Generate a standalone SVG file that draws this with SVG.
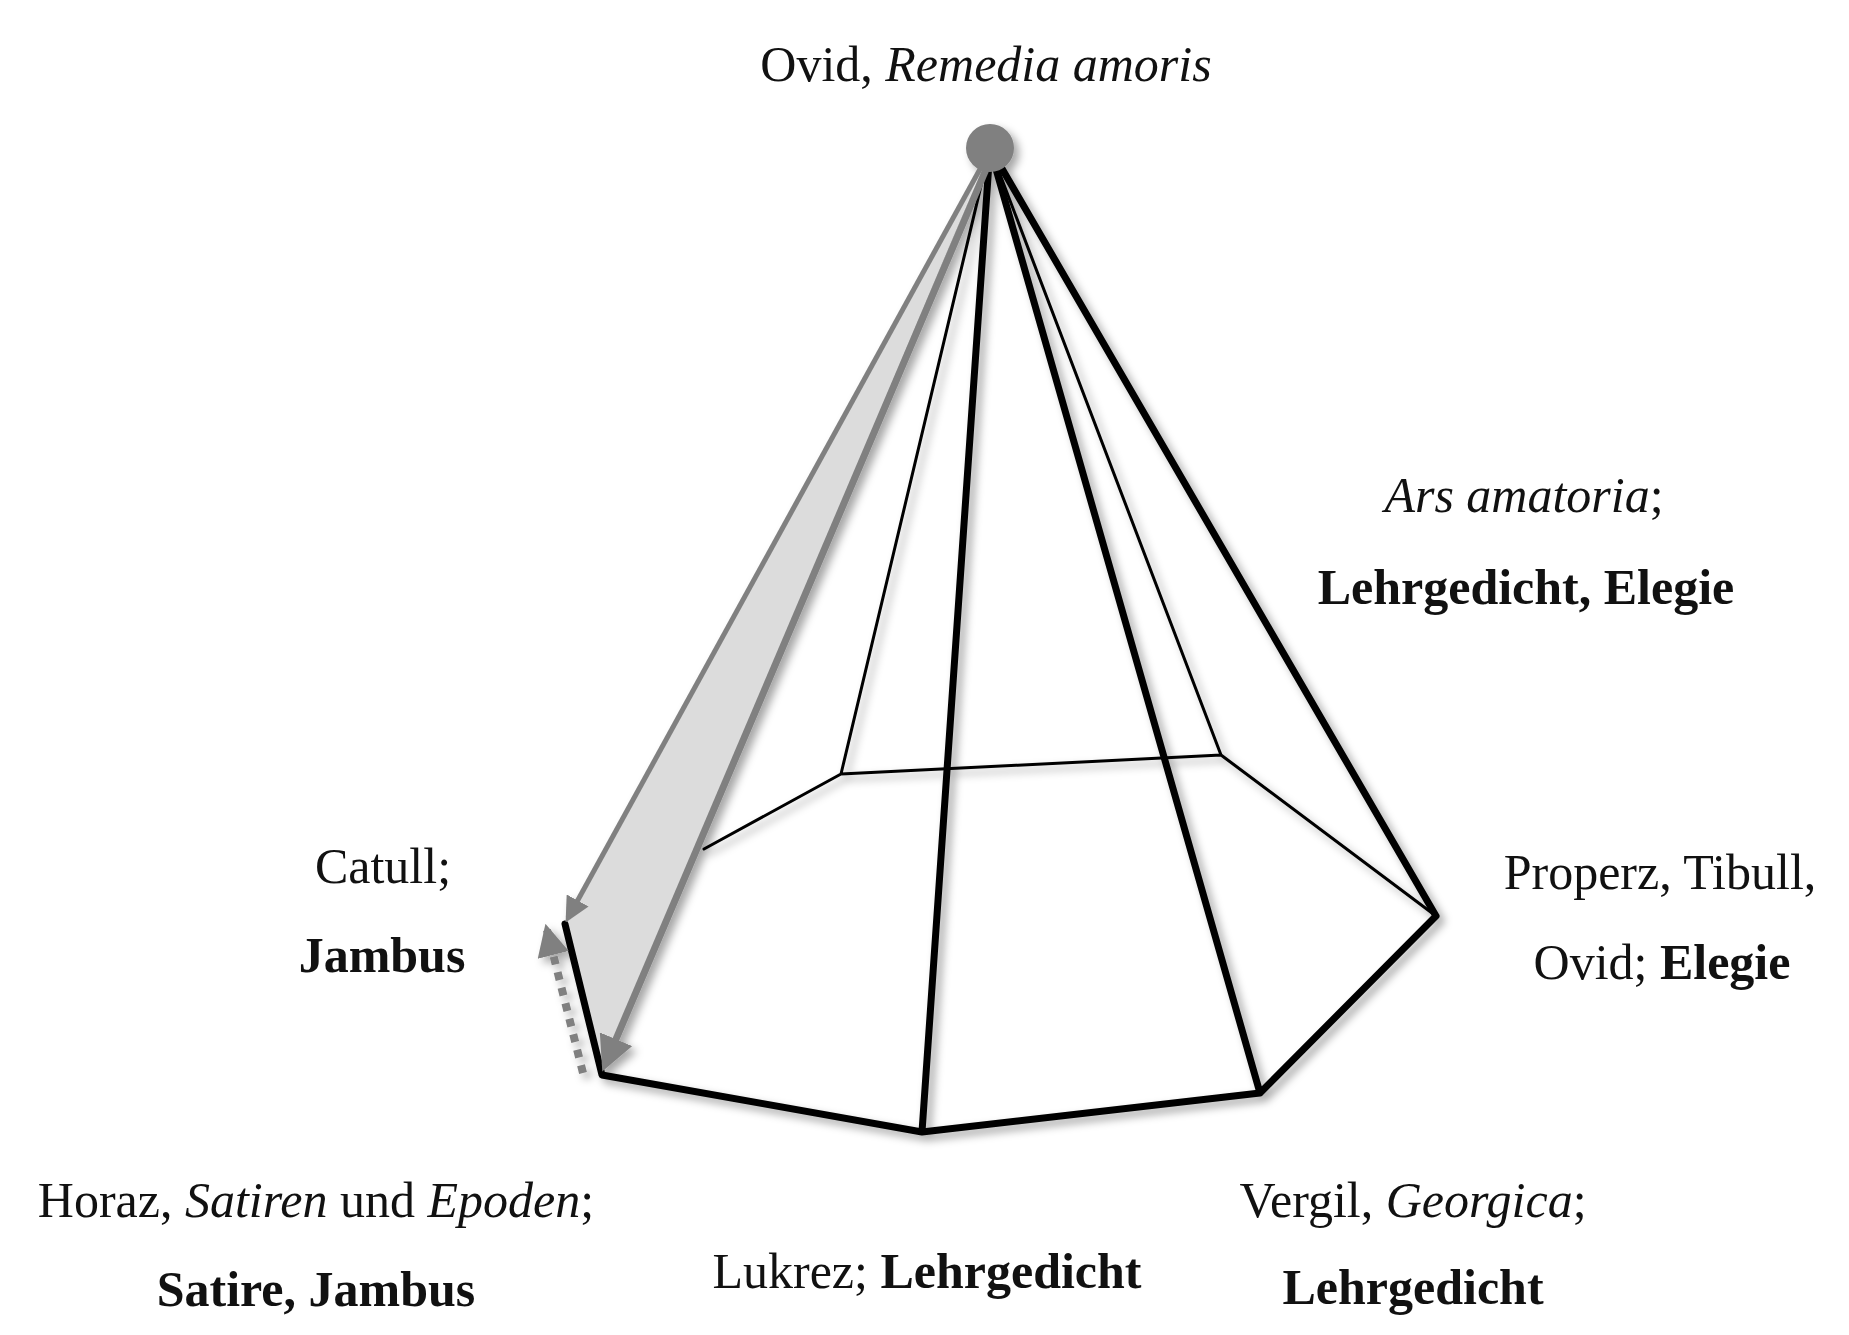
<svg xmlns="http://www.w3.org/2000/svg" width="1849" height="1335" viewBox="0 0 1849 1335">
<style>
text{font-family:"Liberation Serif","Times New Roman",serif;font-size:50px;fill:#111;text-anchor:middle}
.b{font-weight:bold}.i{font-style:italic}
.k{stroke:#000;fill:none;stroke-linecap:round;stroke-linejoin:round}
.t{stroke-width:3}.T{stroke-width:7}
</style>
<defs>
<filter id="sh" x="-20%" y="-20%" width="140%" height="140%"><feDropShadow dx="5" dy="5" stdDeviation="4" flood-color="#000" flood-opacity="0.35"/></filter>
<marker id="ag" viewBox="0 0 10 10" refX="8" refY="5" markerWidth="5" markerHeight="5" orient="auto" markerUnits="strokeWidth"><path d="M0,0L10,5L0,10z" fill="#808080"/></marker>
<marker id="ad" viewBox="0 0 10 10" refX="8" refY="5" markerWidth="4" markerHeight="4" orient="auto" markerUnits="strokeWidth"><path d="M0,0L10,5L0,10z" fill="#808080"/></marker>
</defs>
<g id="pyramid" filter="url(#sh)">
<polygon points="990,148 565,924 602,1075" fill="#dcdcdc"/>
<g id="connectors">
<path class="k t" d="M990,148L841,774L704,849M841,774L1221,755L1436,916M990,148L1221,755"/>
<path class="k T" d="M565,924L602,1075L922,1132L1260,1093L1436,916M990,148L922,1132M990,148L1260,1093M990,148L1436,916"/>
<line x1="985" y1="160" x2="568" y2="918" stroke="#808080" stroke-width="5" marker-end="url(#ag)"/>
<line x1="990" y1="160" x2="605" y2="1065" stroke="#808080" stroke-width="7" marker-end="url(#ag)"/>
<line x1="583" y1="1073" x2="547" y2="930" stroke="#808080" stroke-width="8" stroke-dasharray="8,8" marker-end="url(#ad)"/>
</g>
<circle id="apex" cx="990" cy="148" r="24" fill="#808080"/>
</g>
<g id="n-top"><text x="986" y="81">Ovid, <tspan class="i">Remedia amoris</tspan></text></g>
<g id="n-ars"><text x="1524" y="512"><tspan class="i">Ars amatoria</tspan>;</text><text class="b" x="1526" y="604">Lehrgedicht, Elegie</text></g>
<g id="n-catull"><text x="383" y="883">Catull;</text><text class="b" x="382" y="972">Jambus</text></g>
<g id="n-properz"><text x="1660" y="889">Properz, Tibull,</text><text x="1662" y="979">Ovid; <tspan class="b">Elegie</tspan></text></g>
<g id="n-horaz"><text x="316" y="1217">Horaz, <tspan class="i">Satiren</tspan> und <tspan class="i">Epoden</tspan>;</text><text class="b" x="316" y="1306">Satire, Jambus</text></g>
<g id="n-lukrez"><text x="927" y="1288">Lukrez; <tspan class="b">Lehrgedicht</tspan></text></g>
<g id="n-vergil"><text x="1413" y="1217">Vergil, <tspan class="i">Georgica</tspan>;</text><text class="b" x="1413" y="1304">Lehrgedicht</text></g>
</svg>
